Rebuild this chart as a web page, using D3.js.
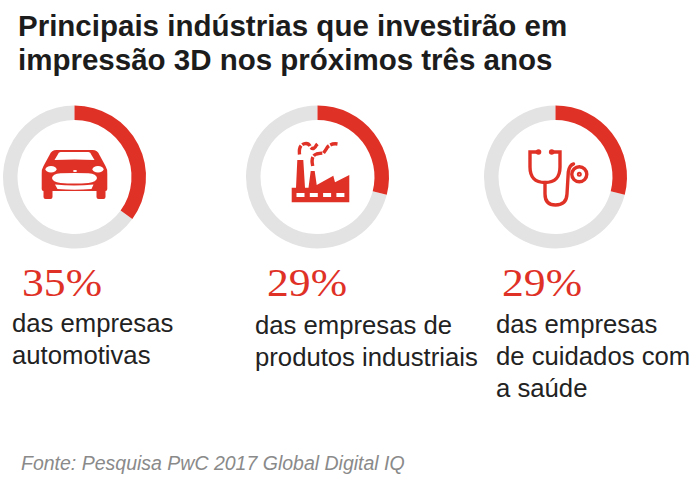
<!DOCTYPE html>
<html>
<head>
<meta charset="utf-8">
<script src="https://cdn.jsdelivr.net/npm/d3@7"></script>
<style>
  html, body { margin: 0; padding: 0; background: #fff; }
  svg { display: block; }
  text { font-family: "Liberation Sans", Arial, sans-serif; }
</style>
</head>
<body>
<div id="chart"></div>
<script>
// Data
var titleLines = ['Principais indústrias que investirão em', 'impressão 3D nos próximos três anos'];
var industries = ['car', 'factory', 'stethoscope'];
var percents = [35, 29, 29];
var captions = [
    ['das empresas', 'automotivas'],
    ['das empresas de', 'produtos industriais'],
    ['das empresas', 'de cuidados com', 'a saúde']
];
var source = 'Fonte: Pesquisa PwC 2017 Global Digital IQ';

// Layout for each panel, same order as the data
var ringX = [74.5, 317.5, 555.5];
var percentX = [22, 267, 502];
var captionX = [12, 255, 496];
var captionY = [332, 334, 333];

var red = '#e03127', grey = '#e3e3e3';
var width = 700, height = 487;

var svg = d3.select('#chart').append('svg')
    .attr('width', width)
    .attr('height', height);

svg.selectAll('.title').data(titleLines).enter().append('text')
    .attr('class', 'title')
    .attr('x', 18)
    .attr('y', (d, i) => 36 + i * 34)
    .attr('font-size', 29.5)
    .attr('font-weight', 'bold')
    .attr('fill', '#1c1c1c')
    .text(d => d);

var angle = d3.scaleLinear().domain([0, 100]).range([0, 2 * Math.PI]);
var arc = d3.arc().innerRadius(57).outerRadius(71.5);

// Icons, drawn around the ring centre
var icons = {
    car: function(g) {
        g.append('path').attr('fill', red).attr('fill-rule', 'evenodd')
            .attr('d', 'M-18,-27 L18,-27 Q23,-27 25,-22 L31,-11 Q33,-8 32.8,-3 L32.8,12 Q32.8,14 31,14 L31,20 Q31,22 29,22 L24,22 Q22,22 22,20 L22,14 L-22,14 L-22,20 Q-22,22 -24,22 L-29,22 Q-31,22 -31,20 L-31,14 Q-32.8,14 -32.8,12 L-32.8,-3 Q-33,-8 -31,-11 L-25,-22 Q-23,-27 -18,-27 Z ' +
                'M-14,-25 Q-16,-25 -17,-22 L-20,-17 Q0,-18 20,-17 L17,-22 Q16,-25 14,-25 Z ' +
                'M-14,-3.7 Q0,-4.5 14,-3.7 Q22,-3 22.5,1 Q22,5 14,6 Q0,7 -14,6 Q-22,5 -22.5,1 Q-22,-3 -14,-3.7 Z ' +
                'M-19.5,7.5 Q0,9.5 19,7.5 L17,12 Q0,13.5 -17,12 Z');
        g.selectAll('.light').data([-23.5, 23.5]).enter().append('ellipse')
            .attr('class', 'light')
            .attr('cx', d => d).attr('cy', -7.7).attr('rx', 5.5).attr('ry', 3.2).attr('fill', '#fff');
        g.append('ellipse').attr('cx', 0.5).attr('cy', -6).attr('rx', 2).attr('ry', 1).attr('fill', '#fff');
    },
    factory: function(g) {
        g.append('path').attr('fill', red)
            .attr('d', 'M-25.8,25.3 L-25.8,10.7 L-21.5,10.7 L-20.2,-17 L-14.2,-17 L-12.5,10.7 L-9,10.7 L-6.8,-6 L-2.8,-6 L-0.8,8 L15.8,-1.3 L17.5,5.3 L31.8,-2 L31.8,25.3 Z');
        g.selectAll('.win').data(d3.range(4)).enter().append('rect')
            .attr('class', 'win')
            .attr('x', d => -21 + d * 13.3).attr('y', 16).attr('width', 8).attr('height', 4).attr('fill', '#fff');
        g.append('path').attr('fill', 'none').attr('stroke', red).attr('stroke-width', 3.4)
            .attr('stroke-dasharray', '9 1.5')
            .attr('d', 'M-18,-22.5 Q-19,-31 -14,-33 Q-9,-35 -7,-30 Q-4,-26 -1,-32 L1,-34');
        g.append('path').attr('fill', 'none').attr('stroke', red).attr('stroke-width', 3.4)
            .attr('stroke-dasharray', '9 1.5')
            .attr('d', 'M-4.8,-11 Q-7,-21 -1,-23 Q4,-24 6,-24 Q9,-28 10,-30 Q14,-34 20,-33');
    },
    stethoscope: function(g) {
        var s = g.append('g').attr('fill', 'none').attr('stroke', red).attr('stroke-width', 3.4).attr('stroke-linecap', 'round');
        s.append('path').attr('d', 'M-17,-25 L-25.5,-25 L-25.5,-10 Q-25.5,5.5 -10.5,5.5 Q4.5,5.5 4.5,-10 L4.5,-25 L-3.8,-25');
        s.append('path').attr('d', 'M-10.5,5.5 L-10.5,17 Q-10.5,28 0,28 Q11,28 11.5,17 L12.8,-5 Q14,-12 18,-13');
        s.append('circle').attr('cx', 23.8).attr('cy', -2.7).attr('r', 7.5);
        s.append('circle').attr('cx', 23.8).attr('cy', -2.7).attr('r', 1.5).attr('stroke-width', 2);
        g.selectAll('.tip').data([-17, -3.8]).enter().append('circle')
            .attr('class', 'tip').attr('cx', d => d).attr('cy', -25).attr('r', 2.8).attr('fill', red);
    }
};

var panels = svg.selectAll('.panel').data(industries).enter().append('g').attr('class', 'panel');

panels.each(function(name, i) {
    var g = d3.select(this);
    var ring = g.append('g').attr('transform', 'translate(' + ringX[i] + ',177)');

    ring.append('path')
        .attr('d', arc({startAngle: angle(percents[i]), endAngle: angle(100)}))
        .attr('fill', grey);
    ring.append('path')
        .attr('d', arc({startAngle: 0, endAngle: angle(percents[i])}))
        .attr('fill', red);

    icons[name](ring.append('g'));

    g.append('text')
        .attr('x', percentX[i])
        .attr('y', 296)
        .attr('font-size', 41)
        .attr('textLength', 80)
        .attr('lengthAdjust', 'spacingAndGlyphs')
        .attr('fill', red)
        .style('font-family', '"Liberation Serif", Georgia, serif')
        .text(percents[i] + '%');

    g.selectAll('.caption').data(captions[i]).enter().append('text')
        .attr('class', 'caption')
        .attr('x', captionX[i])
        .attr('y', (d, j) => captionY[i] + j * 32)
        .attr('font-size', 25.7)
        .attr('fill', '#222')
        .text(d => d);
});

svg.append('text')
    .attr('x', 21)
    .attr('y', 470)
    .attr('font-size', 19.5)
    .attr('font-style', 'italic')
    .attr('fill', '#8a8a8a')
    .text(source);
</script>
</body>
</html>
